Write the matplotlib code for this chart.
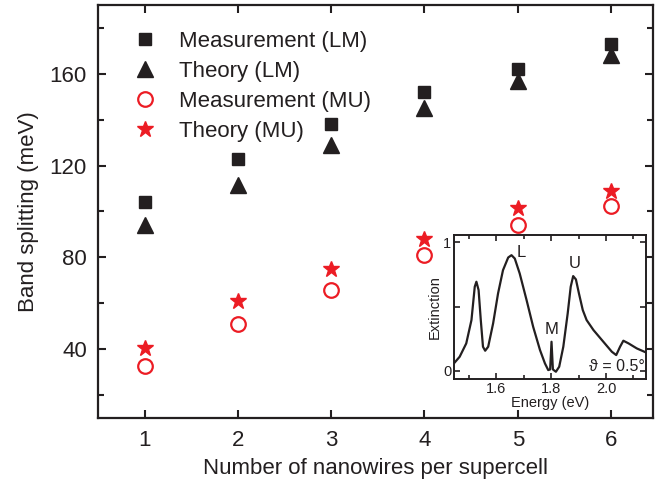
import numpy as np
import matplotlib
matplotlib.use("Agg")
from matplotlib import pyplot as plt
from matplotlib.ticker import MultipleLocator

plt.rcParams['font.family'] = ['Liberation Sans', 'DejaVu Sans']

# main data: band splitting vs number of nanowires
n_wires = [1, 2, 3, 4, 5, 6]
meas_lm = [104, 123, 138, 152, 162, 173]
theory_lm = [94, 111.5, 129, 145, 157, 168]
meas_mu = [32.5, 51, 66, 81, 94, 102.5]
theory_mu = [40.5, 61, 75, 88, 101.5, 109]

# inset: extinction spectrum (theta = 0.5 deg)
energy = [1.445, 1.466, 1.49, 1.509, 1.521, 1.527, 1.535, 1.543, 1.551, 1.559,
          1.57, 1.588, 1.606, 1.624, 1.643, 1.655, 1.667, 1.685, 1.71, 1.734,
          1.759, 1.777, 1.789, 1.796, 1.801, 1.806, 1.817, 1.829, 1.844, 1.86,
          1.871, 1.88, 1.89, 1.901, 1.915, 1.929, 1.954, 1.99, 2.021, 2.037,
          2.051, 2.063, 2.082, 2.112, 2.145]
extinction = [0.057, 0.109, 0.213, 0.395, 0.655, 0.694, 0.629, 0.395, 0.187, 0.156,
              0.187, 0.369, 0.603, 0.784, 0.883, 0.901, 0.875, 0.758, 0.551, 0.343,
              0.161, 0.057, 0.005, 0.01, 0.226, 0.01, -0.008, 0.031, 0.187, 0.447,
              0.655, 0.738, 0.712, 0.603, 0.473, 0.395, 0.317, 0.226, 0.148, 0.122,
              0.187, 0.234, 0.213, 0.174, 0.143]

red = '#ec1c24'
black = '#231f20'

fig = plt.figure(figsize=(6.55, 4.91), dpi=100)
ax = fig.add_axes([0.1496, 0.1487, 0.8474, 0.8411])

ax.plot(n_wires, meas_lm, 's', color=black, ms=9, label='Measurement (LM)')
ax.plot(n_wires, theory_lm, '^', color=black, ms=11, label='Theory (LM)')
ax.plot(n_wires, meas_mu, 'o', mfc='none', mec=red, mew=1.6, ms=10.5, label='Measurement (MU)')
ax.plot(n_wires, theory_mu, '*', color=red, ms=12, label='Theory (MU)')

ax.set_xlim(0.5, 6.45)
ax.set_ylim(10, 190)
ax.set_xticks(n_wires)
ax.set_yticks([40, 80, 120, 160])
ax.yaxis.set_minor_locator(MultipleLocator(20))
ax.tick_params(which='both', direction='in', top=True, right=True, width=1.5,
               labelsize=16, colors=black)
ax.tick_params(which='major', length=6)
ax.tick_params(which='minor', length=4)
ax.tick_params(axis='y', pad=8)
ax.tick_params(axis='x', pad=9)
for s in ax.spines.values():
    s.set_linewidth(1.6)
    s.set_color(black)
ax.set_xlabel('Number of nanowires per supercell', fontsize=16, labelpad=5, color=black)
ax.set_ylabel('Band splitting (meV)', fontsize=16, labelpad=8, color=black)

leg = ax.legend(loc='upper left', bbox_to_anchor=(0.025, 0.985), frameon=False,
                fontsize=16, handletextpad=0.9, labelspacing=0.4, handlelength=1.2)
for t in leg.get_texts():
    t.set_color(black)

# inset
ins = fig.add_axes([0.693, 0.228, 0.293, 0.293])
ins.plot(energy, extinction, '-', color=black, lw=1.6)
ins.set_xlim(1.445, 2.145)
ins.set_ylim(-0.065, 1.057)
ins.set_xticks([1.6, 1.8, 2.0])
ins.set_xticklabels(['1.6', '1.8', '2.0'])
ins.xaxis.set_minor_locator(MultipleLocator(0.1))
ins.set_yticks([0, 0.5, 1])
ins.set_yticklabels(['0', '', '1'])
ins.tick_params(which='both', direction='in', top=True, right=True, width=1.2,
                labelsize=10.5, pad=2, colors=black)
ins.tick_params(which='major', length=4)
ins.tick_params(which='minor', length=3)
for s in ins.spines.values():
    s.set_linewidth(1.4)
    s.set_color(black)
ins.set_xlabel('Energy (eV)', fontsize=10.5, labelpad=0, color=black)
ins.set_ylabel('Extinction', fontsize=10.5, labelpad=1, color=black)
ins.text(1.675, 0.92, 'L', fontsize=12, color=black, va='center')
ins.text(1.801, 0.32, 'M', fontsize=12, color=black, ha='center', va='center')
ins.text(1.887, 0.84, 'U', fontsize=12, color=black, ha='center', va='center')
ins.text(2.14, 0.03, 'ϑ = 0.5°', fontsize=11.5, color=black, ha='right', va='center')

fig.savefig('out.png', dpi=100)
